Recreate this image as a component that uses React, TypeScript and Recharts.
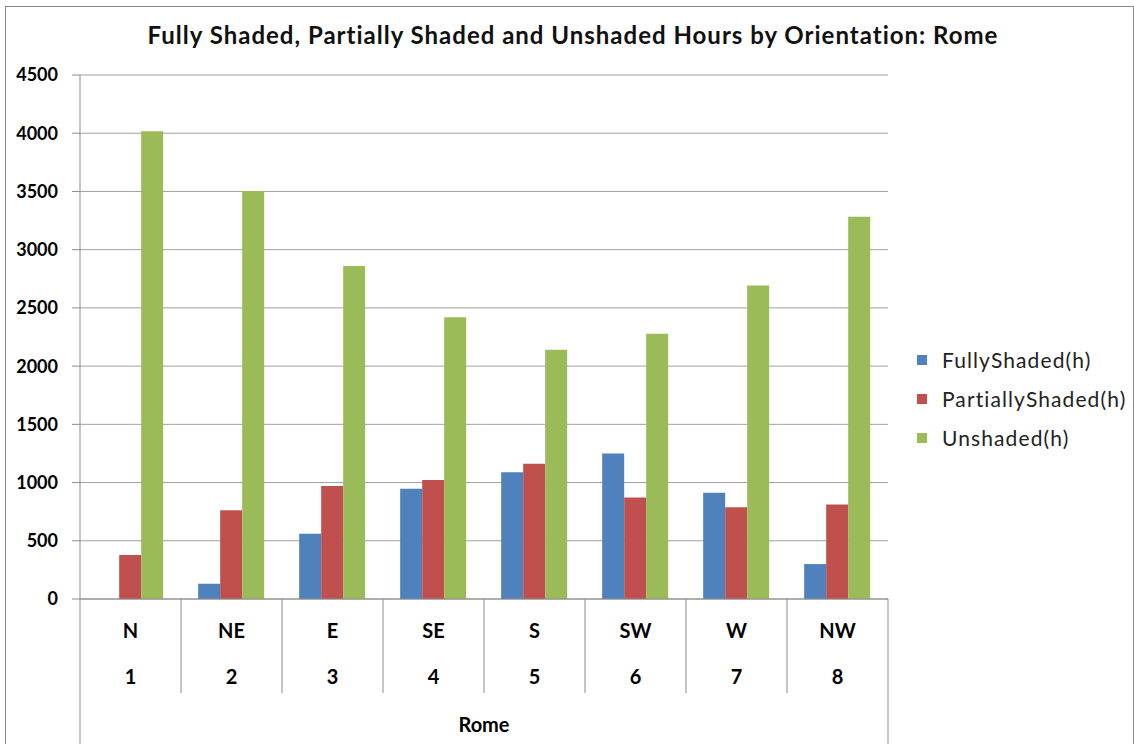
import { BarChart, Bar, XAxis, YAxis, CartesianGrid, Legend } from 'recharts';

const DIRECTIONS = ['N', 'NE', 'E', 'SE', 'S', 'SW', 'W', 'NW'];
const NUMBERS = ['1', '2', '3', '4', '5', '6', '7', '8'];
const FULLY_SHADED = [0, 131, 561, 946, 1089, 1250, 913, 300];
const PARTIALLY_SHADED = [378, 762, 971, 1023, 1161, 871, 788, 811];
const UNSHADED = [4017, 3503, 2859, 2420, 2140, 2277, 2692, 3283];
const Y_TICKS = [0, 500, 1000, 1500, 2000, 2500, 3000, 3500, 4000, 4500];

const SERIES = [
  { key: 'fully', name: 'FullyShaded(h)', color: '#4F81BD' },
  { key: 'partial', name: 'PartiallyShaded(h)', color: '#C0504D' },
  { key: 'unshaded', name: 'Unshaded(h)', color: '#9BBB59' },
];

const data = DIRECTIONS.map((d, i) => ({
  dir: d,
  fully: FULLY_SHADED[i],
  partial: PARTIALLY_SHADED[i],
  unshaded: UNSHADED[i],
}));

const FONT = 'Lato, "Open Sans", sans-serif';
const AXIS_GREY = '#8c8c8c';

function CategoryTick(props: any) {
  const { x, y, payload, index, visibleTicksCount, width } = props;
  const count = visibleTicksCount || DIRECTIONS.length;
  const band = typeof width === 'number' && width > 0 ? width / count : 101;
  const left = x - band / 2;
  const right = x + band / 2;
  const i = DIRECTIONS.indexOf(payload.value);
  const isLast = index === count - 1;
  return (
    <g>
      <line x1={left} y1={y} x2={left} y2={index === 0 ? y + 145 : y + 94} stroke={AXIS_GREY} />
      {isLast && <line x1={right} y1={y} x2={right} y2={y + 145} stroke={AXIS_GREY} />}
      <text x={x} y={y + 39} textAnchor="middle" fontFamily={FONT} fontWeight={700} fontSize={20} fill="#000">
        {DIRECTIONS[i]}
      </text>
      <text x={x} y={y + 85} textAnchor="middle" fontFamily={FONT} fontWeight={700} fontSize={20} fill="#000">
        {NUMBERS[i]}
      </text>
    </g>
  );
}

function LegendBox() {
  return (
    <div style={{ fontFamily: FONT, fontSize: 21, letterSpacing: 1.1, color: '#222' }}>
      {SERIES.map((s) => (
        <div key={s.key} style={{ display: 'flex', alignItems: 'center', height: 39 }}>
          <span style={{ width: 10, height: 10, background: s.color, marginRight: 15 }} />
          <span>{s.name}</span>
        </div>
      ))}
    </div>
  );
}

export default function App() {
  return (
    <div style={{ position: 'absolute', left: 0, top: 0, width: 1134, height: 744, background: '#fff', overflow: 'hidden' }}>
      <div
        style={{
          position: 'absolute', left: 5, top: 6, width: 1127, height: 760,
          borderTop: '1px solid #8a8a8a', borderLeft: '1px solid #8a8a8a', borderRight: '1px solid #8a8a8a',
        }}
      />
      <div
        style={{
          position: 'absolute', left: 0, top: 20, width: 1146, textAlign: 'center',
          fontFamily: FONT, fontWeight: 700, fontSize: 24, letterSpacing: 1, color: '#111',
        }}
      >
        Fully Shaded, Partially Shaded and Unshaded Hours by Orientation: Rome
      </div>
      <div style={{ position: 'absolute', left: 0, top: 0 }}>
        <BarChart
          width={1134}
          height={744}
          data={data}
          margin={{ top: 75, right: 246, bottom: 0, left: 10 }}
          barCategoryGap="17%"
          barGap={0}
        >
          <CartesianGrid horizontal vertical={false} stroke="#a0a0a0" />
          <XAxis
            dataKey="dir"
            height={145}
            interval={0}
            tickSize={0}
            tickMargin={0}
            tickLine={false}
            axisLine={{ stroke: AXIS_GREY }}
            tick={<CategoryTick />}
            label={{ value: 'Rome', position: 'insideBottom', offset: 12, fontFamily: FONT, fontWeight: 700, fontSize: 20, fill: '#000' }}
          />
          <YAxis
            width={70}
            domain={[0, 4500]}
            ticks={Y_TICKS}
            interval={0}
            tickSize={8}
            tickMargin={14}
            axisLine={{ stroke: AXIS_GREY }}
            tickLine={{ stroke: AXIS_GREY }}
            tick={{ fontFamily: FONT, fontWeight: 700, fontSize: 18, fill: '#000' }}
          />
          <Legend
            layout="horizontal"
            align="center"
            verticalAlign="middle"
            content={() => <LegendBox />}
            wrapperStyle={{ left: 917, top: 340, width: 220 }}
          />
          {SERIES.map((s) => (
            <Bar key={s.key} dataKey={s.key} name={s.name} fill={s.color} isAnimationActive={false} />
          ))}
        </BarChart>
      </div>
    </div>
  );
}
